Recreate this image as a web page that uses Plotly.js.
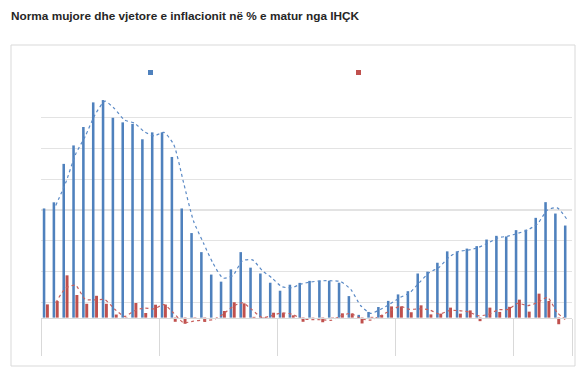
<!DOCTYPE html>
<html>
<head>
<meta charset="utf-8">
<script src="https://cdn.plot.ly/plotly-3.0.1.min.js"></script>
<style>
html,body{margin:0;padding:0;background:#ffffff;}
#chart{width:587px;height:370px;}
</style>
</head>
<body>
<div id="chart"></div>
<script>
// Years covered (last one partial) and month names
const years = ['2022', '2023', '2024', '2025', '2026'];
const monthNames = ['Janar', 'Shkurt', 'Mars', 'Prill', 'Maj', 'Qershor', 'Korrik', 'Gusht', 'Shtator', 'Tetor', 'Nëntor', 'Dhjetor'];

// Annual (y/y) inflation, %
const annualRate = [
  7.1, 7.5, 10.0, 11.2, 12.4, 14.0, 14.15, 13.0, 12.7, 12.6, 11.6, 12.05,
  12.05, 10.45, 7.1, 5.5, 4.26, 2.8, 2.34, 3.14, 4.26, 3.25, 2.87, 2.27,
  1.75, 2.14, 2.26, 2.39, 2.4, 2.4, 2.27, 1.4, 0.18, 0.37, 0.69, 1.09,
  1.51, 1.72, 2.87, 2.99, 3.57, 4.31, 4.31, 4.49, 4.65, 5.08, 5.32, 5.28,
  5.69, 5.72, 6.49, 7.51, 6.77, 5.99
];

// Monthly (m/m) inflation, %
const monthlyRate = [
  0.86, 1.08, 2.75, 1.47, 0.9, 1.42, 0.9, 0.2, -0.05, 0.95, 0.3, 0.84,
  0.85, -0.27, -0.4, -0.05, -0.28, 0.0, 0.43, 1.0, 0.93, 0.05, -0.05, 0.32,
  0.3, 0.15, -0.27, 0.02, -0.3, -0.05, 0.28, 0.27, -0.38, 0.05, 0.17, 0.73,
  0.73, 0.35, 0.8, 0.21, 0.26, 0.65, 0.26, 0.47, -0.23, 0.65, 0.37, 0.7,
  1.17, 0.39, 1.56, 1.08, -0.43, 0.0
];

const seriesNames = ['Norma vjetore e inflacionit', 'Norma mujore e inflacionit'];
const chartTitle = 'Norma mujore dhe vjetore e inflacionit në % e matur nga IHÇK';

const n = annualRate.length;
const idx = annualRate.map((_, i) => i);
const labels = idx.map(i => monthNames[i % 12] + ' ' + years[Math.floor(i / 12)]);

// Excel-style 2-period moving average trendlines
function movingAvg2(v) {
  return v.map((x, i) => i === 0 ? null : (v[i - 1] + x) / 2);
}
const annualMA = movingAvg2(annualRate);
const monthlyMA = movingAvg2(monthlyRate);

// Year separators (category boundaries)
const sepVals = [];
for (let k = 0; k * 12 < n; k++) sepVals.push(k * 12 - 0.5);
sepVals.push(n - 0.5);

const blue = '#4F81BD';
const red = '#C0504D';

const traces = [
  {type: 'bar', x: idx, y: annualRate, name: seriesNames[0], customdata: labels,
   marker: {color: blue}, width: 0.26, offset: -0.32, showlegend: false,
   hovertemplate: '%{customdata}: %{y}%<extra></extra>'},
  {type: 'bar', x: idx, y: monthlyRate, name: seriesNames[1], customdata: labels,
   marker: {color: red}, width: 0.3, offset: 0.0, showlegend: false,
   hovertemplate: '%{customdata}: %{y}%<extra></extra>'},
  {type: 'scatter', mode: 'lines', x: idx, y: annualMA, showlegend: false, hoverinfo: 'skip',
   line: {color: '#5b8ac6', width: 1.2, dash: 'dot', shape: 'spline', smoothing: 0.6}},
  {type: 'scatter', mode: 'lines', x: idx, y: monthlyMA, showlegend: false, hoverinfo: 'skip',
   line: {color: '#c8605d', width: 1.2, dash: 'dot', shape: 'spline', smoothing: 0.6}}
];

const L = 41, R = 15, T = 87, B = 37, W = 587, H = 370;
const pw = W - L - R, ph = H - T - B;
const px2x = p => (p - L) / pw;
const py2y = p => (H - B - p) / ph;

const shapes = [
  // chart area border
  {type: 'rect', xref: 'paper', yref: 'paper', x0: px2x(11), x1: px2x(575), y0: py2y(366), y1: py2y(45),
   line: {color: '#d9d9d9', width: 1}, layer: 'below'},
  // legend keys
  {type: 'rect', xref: 'paper', yref: 'paper', x0: px2x(148), x1: px2x(153), y0: py2y(75), y1: py2y(70),
   fillcolor: blue, line: {width: 0}},
  {type: 'rect', xref: 'paper', yref: 'paper', x0: px2x(356), x1: px2x(361), y0: py2y(75), y1: py2y(70),
   fillcolor: red, line: {width: 0}}
];

const layout = {
  width: W, height: H,
  margin: {l: L, r: R, t: T, b: B, pad: 0},
  paper_bgcolor: '#ffffff', plot_bgcolor: '#ffffff',
  font: {family: 'Liberation Sans, Arial, sans-serif', size: 11, color: '#595959'},
  title: {text: '<b>' + chartTitle + '</b>', xref: 'container', yref: 'container',
          x: 11 / W, xanchor: 'left', y: 1 - 12 / H, yanchor: 'top',
          font: {family: 'Liberation Sans, Arial, sans-serif', size: 11.8, color: '#262626'}},
  barmode: 'overlay',
  showlegend: false,
  xaxis: {
    range: [-0.5, n - 0.5], showgrid: false, zeroline: false,
    anchor: 'free', position: 1 / 16,
    showline: true, linecolor: '#d9d9d9', linewidth: 1,
    tickmode: 'array', tickvals: sepVals, ticks: 'outside', ticklen: 37, tickcolor: '#d9d9d9', tickwidth: 1,
    showticklabels: false
  },
  yaxis: {
    range: [-1, 15], tickmode: 'linear', tick0: -1, dtick: 2,
    showgrid: true, gridcolor: '#e3e3e3', gridwidth: 1.2,
    zeroline: false, showline: false, showticklabels: false, ticks: ''
  },
  shapes: shapes
};

Plotly.newPlot('chart', traces, layout, {displayModeBar: false, staticPlot: true});
</script>
</body>
</html>
